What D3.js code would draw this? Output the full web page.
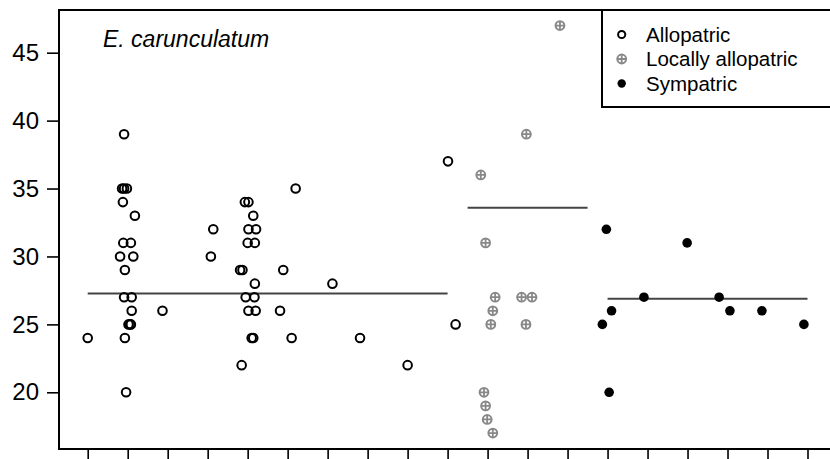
<!DOCTYPE html>
<html>
<head>
<meta charset="utf-8">
<script src="https://cdn.jsdelivr.net/npm/d3@7"></script>
<style>
  html, body { margin: 0; padding: 0; background: #fff; }
  svg { display: block; font-family: "Liberation Sans", Arial, Helvetica, sans-serif; }
</style>
</head>
<body>
<svg id="chart" width="830" height="459"></svg>
<script>
// site index (jittered) and value for each sample
const allopatricX = [1.0, 1.91, 1.86, 1.91, 1.98, 1.88, 2.18, 1.89, 2.08, 1.81, 2.14, 1.93, 1.91, 2.1, 2.1, 2.02, 2.06, 2.08, 1.93, 1.96,
  2.87, 4.08, 4.14,
  4.93, 5.02, 5.14, 5.02, 5.21, 5.0, 5.18, 4.81, 4.87, 5.18, 4.95, 5.17, 5.02, 5.2, 5.1, 5.14, 4.85,
  5.89, 5.81, 6.1, 6.2, 7.12, 7.81, 9.0, 10.01, 10.2];
const allopatricY = [24, 39, 35, 35, 35, 34, 33, 31, 31, 30, 30, 29, 27, 27, 26, 25, 25, 25, 24, 20,
  26, 30, 32,
  34, 34, 33, 32, 32, 31, 31, 29, 29, 28, 27, 27, 26, 26, 24, 24, 22,
  29, 26, 24, 35, 28, 24, 22, 37, 25];

const localX = [12.81, 11.97, 10.83, 10.95, 11.19, 11.85, 12.11, 11.13, 11.08, 11.96, 10.91, 10.95, 10.99, 11.13];
const localY = [47, 39, 36, 31, 27, 27, 27, 26, 25, 25, 20, 19, 18, 17];

const sympatricX = [13.97, 15.99, 14.91, 16.79, 14.1, 17.06, 17.86, 13.87, 18.91, 14.04];
const sympatricY = [32, 31, 27, 27, 26, 26, 26, 25, 25, 20];

// group level lines: [from site, to site, value]
const groupLines = [[1, 10, 27.27], [10.5, 13.5, 33.58], [14, 19, 26.88]];

const yTicks = [20, 25, 30, 35, 40, 45];
const xTicks = d3.range(1, 20);
const legendLabels = ["Allopatric", "Locally allopatric", "Sympatric"];
const title = "E. carunculatum";

const svg = d3.select("#chart");
const box = { left: 59, right: 837, top: 10, bottom: 449 };

const x = d3.scaleLinear().domain([1, 19]).range([87.7, 807.5]);
const y = d3.scaleLinear().domain([20, 45]).range([392.3, 52.7]);

// y axis
const yAxis = svg.append("g")
  .attr("transform", `translate(${box.left},0)`)
  .call(d3.axisLeft(y).tickValues(yTicks).tickSize(12).tickPadding(8).tickFormat(d3.format("d")));
yAxis.select(".domain").remove();
yAxis.selectAll("line").attr("stroke", "#000").attr("stroke-width", 1.6);
yAxis.selectAll("text").attr("fill", "#000").style("font-size", "24px");

// x axis ticks, no labels
const xAxis = svg.append("g")
  .attr("transform", `translate(0,${box.bottom})`)
  .call(d3.axisBottom(x).tickValues(xTicks).tickSize(12).tickFormat(""));
xAxis.select(".domain").remove();
xAxis.selectAll("line").attr("stroke", "#000").attr("stroke-width", 1.6);

// group lines
svg.selectAll("line.group")
  .data(groupLines)
  .join("line")
  .attr("class", "group")
  .attr("x1", d => x(d[0]))
  .attr("x2", d => x(d[1]))
  .attr("y1", d => y(d[2]))
  .attr("y2", d => y(d[2]))
  .attr("stroke", "#444")
  .attr("stroke-width", 2);

// allopatric: open circles
svg.append("g").selectAll("circle")
  .data(d3.zip(allopatricX, allopatricY))
  .join("circle")
  .attr("cx", d => x(d[0]))
  .attr("cy", d => y(d[1]))
  .attr("r", 4.3)
  .attr("fill", "none")
  .attr("stroke", "#000")
  .attr("stroke-width", 2);

// locally allopatric: grey circle-plus
function crossCircle(g, cx, cy) {
  g.append("circle")
    .attr("cx", cx).attr("cy", cy).attr("r", 4.4)
    .attr("fill", "none").attr("stroke", "#888").attr("stroke-width", 2);
  g.append("path")
    .attr("d", `M${cx - 4.4},${cy}H${cx + 4.4}M${cx},${cy - 4.4}V${cy + 4.4}`)
    .attr("stroke", "#888").attr("stroke-width", 1.8);
}
const localG = svg.append("g");
d3.zip(localX, localY).forEach(d => crossCircle(localG, x(d[0]), y(d[1])));

// sympatric: filled dots
svg.append("g").selectAll("circle")
  .data(d3.zip(sympatricX, sympatricY))
  .join("circle")
  .attr("cx", d => x(d[0]))
  .attr("cy", d => y(d[1]))
  .attr("r", 4.8)
  .attr("fill", "#000");

// plot box
svg.append("rect")
  .attr("x", box.left)
  .attr("y", box.top)
  .attr("width", box.right - box.left)
  .attr("height", box.bottom - box.top)
  .attr("fill", "none")
  .attr("stroke", "#000")
  .attr("stroke-width", 2);

svg.append("text")
  .attr("x", 103)
  .attr("y", 47)
  .style("font-size", "23px")
  .style("font-style", "italic")
  .text(title);

// legend
const legend = svg.append("g");
legend.append("rect")
  .attr("x", 602)
  .attr("y", box.top)
  .attr("width", 260)
  .attr("height", 97)
  .attr("fill", "#fff")
  .attr("stroke", "#000")
  .attr("stroke-width", 2);

const rowY = i => 34.5 + i * 24.5;
legend.append("circle")
  .attr("cx", 621.7).attr("cy", rowY(0)).attr("r", 3.6)
  .attr("fill", "none").attr("stroke", "#000").attr("stroke-width", 2);
crossCircle(legend, 621.7, rowY(1));
legend.append("circle")
  .attr("cx", 621.7).attr("cy", rowY(2)).attr("r", 4.2).attr("fill", "#000");

legend.selectAll("text")
  .data(legendLabels)
  .join("text")
  .attr("x", 646)
  .attr("y", (d, i) => rowY(i))
  .attr("dy", "0.35em")
  .style("font-size", "20.5px")
  .text(d => d);
</script>
</body>
</html>
